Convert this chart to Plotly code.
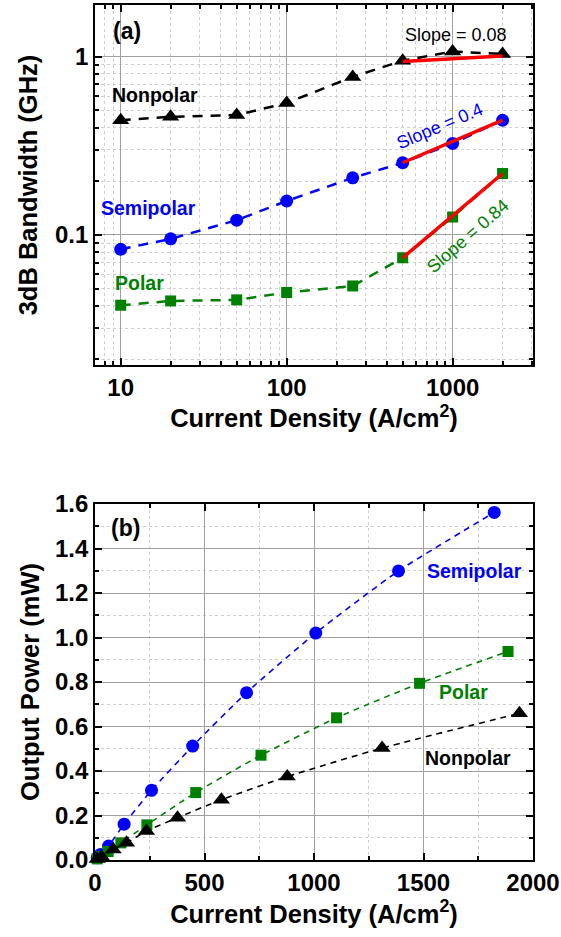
import plotly.graph_objects as go
import numpy as np

# ---------------- Data: panel (a) ----------------
current_a = [10, 20, 50, 100, 250, 500, 1000, 2000]
bw_nonpolar = [0.44, 0.46, 0.47, 0.55, 0.77, 0.95, 1.07, 1.035]
bw_semipolar = [0.083, 0.095, 0.121, 0.155, 0.209, 0.254, 0.326, 0.44]
bw_polar = [0.0403, 0.0426, 0.0432, 0.0475, 0.0517, 0.0744, 0.126, 0.221]

fit_x = [500, 2000]
fit_nonpolar = [0.94, 1.01]
fit_semipolar = [0.254, 0.44]
fit_polar = [0.0744, 0.221]

# ---------------- Data: panel (b) ----------------
cur_semipolar = [10, 25, 62, 133, 258, 446, 692, 1008, 1386, 1823]
pow_semipolar = [0.01, 0.025, 0.063, 0.161, 0.313, 0.512, 0.752, 1.020, 1.299, 1.562]
cur_polar = [10, 30, 60, 118, 237, 460, 758, 1103, 1482, 1886]
pow_polar = [0.005, 0.016, 0.038, 0.077, 0.158, 0.303, 0.471, 0.639, 0.794, 0.937]
cur_nonpolar = [10, 30, 83, 144, 235, 377, 577, 878, 1311, 1938]
pow_nonpolar = [0.005, 0.015, 0.047, 0.077, 0.130, 0.190, 0.271, 0.375, 0.503, 0.659]

BLACK = "#000000"
BLUE = "#0000FF"
GREEN = "#008000"
RED = "#FF0000"
FONT = "Liberation Sans"

W, H = 561, 937
L, R, T, B = 95, 28, 5, 77
PW = W - L - R
PH = H - T - B


def px(x):
    return (x - L) / PW


def py(y):
    return (H - B - y) / PH


top_dom = [py(365), 1.0]
bot_dom = [0.0, py(504)]

fig = go.Figure()

# panel (a) dashed series
for xs, ys, col, sym, size in [
    (current_a, bw_nonpolar, BLACK, "triangle-up", 15),
    (current_a, bw_semipolar, BLUE, "circle", 13),
    (current_a, bw_polar, GREEN, "square", 11),
]:
    fig.add_trace(go.Scatter(
        x=xs, y=ys, mode="lines+markers", xaxis="x", yaxis="y",
        line=dict(color=col, width=2.5, dash="10px,8px"),
        marker=dict(symbol=sym, size=size, color=col),
        showlegend=False, cliponaxis=False))

for ys in [fit_nonpolar, fit_semipolar, fit_polar]:
    fig.add_trace(go.Scatter(
        x=fit_x, y=ys, mode="lines", xaxis="x", yaxis="y",
        line=dict(color=RED, width=3.5), showlegend=False))

# panel (b)
for xs, ys, col, sym, size in [
    (cur_semipolar, pow_semipolar, BLUE, "circle", 13),
    (cur_polar, pow_polar, GREEN, "square", 11),
    (cur_nonpolar, pow_nonpolar, BLACK, "triangle-up", 15),
]:
    fig.add_trace(go.Scatter(
        x=xs, y=ys, mode="lines+markers", xaxis="x2", yaxis="y2",
        line=dict(color=col, width=1.6, dash="6px,5px", shape="spline", smoothing=0.6),
        marker=dict(symbol=sym, size=size, color=col),
        showlegend=False, cliponaxis=False))

tickfont = dict(family=FONT, size=24, color="black", weight="bold")
titlefont = dict(family=FONT, size=25.5, color="black", weight="bold")
major_grid = "#a0a0a0"
minor_grid = "#cfcfcf"

common = dict(
    showline=True, linecolor="black", linewidth=1.8, mirror="allticks",
    ticks="inside", ticklen=7, tickwidth=1.5, tickcolor="black",
    tickfont=tickfont, showgrid=True, gridcolor=major_grid, gridwidth=1,
    zeroline=False, automargin=False,
)

fig.update_layout(
    template="none",
    width=W, height=H,
    margin=dict(l=L, r=R, t=T, b=B),
    paper_bgcolor="white", plot_bgcolor="white",
    xaxis=dict(
        **common, type="log", domain=[0, 1], anchor="y",
        range=[np.log10(7), np.log10(3050)],
        tickvals=[10, 100, 1000], ticktext=["10", "100", "1000"],
        minor=dict(ticks="inside", ticklen=4, tickcolor="black", dtick="D1",
                   showgrid=True, gridcolor=minor_grid, griddash="dot", gridwidth=1),
        title=dict(text="Current Density (A/cm<sup>2</sup>)", font=titlefont, standoff=9),
    ),
    yaxis=dict(
        **common, type="log", domain=top_dom, anchor="x",
        range=[-1.73, 0.29],
        tickvals=[0.1, 1], ticktext=["0.1", "1"],
        minor=dict(ticks="inside", ticklen=4, tickcolor="black", dtick="D1",
                   showgrid=True, gridcolor=minor_grid, griddash="dot", gridwidth=1),
        title=dict(text="3dB Bandwidth (GHz)", font=titlefont, standoff=10),
    ),
    xaxis2=dict(
        **common, domain=[0, 1], anchor="y2",
        range=[0, 2000], dtick=500,
        minor=dict(ticks="inside", ticklen=4, tickcolor="black", dtick=250,
                   showgrid=True, gridcolor=minor_grid, griddash="dot", gridwidth=1),
        title=dict(text="Current Density (A/cm<sup>2</sup>)", font=titlefont, standoff=10),
    ),
    yaxis2=dict(
        **common, domain=bot_dom, anchor="x2",
        range=[0, 1.6], dtick=0.2, tickformat=".1f",
        minor=dict(ticks="inside", ticklen=4, tickcolor="black", dtick=0.1,
                   showgrid=True, gridcolor=minor_grid, griddash="dot", gridwidth=1),
        title=dict(text="Output Power (mW)", font=titlefont, standoff=8),
    ),
)


def ann(text, x, y, color="black", size=19.5, bold=True, angle=0):
    fig.add_annotation(
        text=text, x=px(x), y=py(y), xref="paper", yref="paper",
        showarrow=False, textangle=angle, xanchor="center", yanchor="middle",
        font=dict(family=FONT, size=size, color=color,
                  weight="bold" if bold else "normal"))


ann("(a)", 127, 31, size=23)
ann("Slope = 0.08", 456, 35, size=18, bold=False)
ann("Nonpolar", 155, 95)
ann("Slope = 0.4", 440, 126, color=BLUE, size=18, bold=False, angle=-23)
ann("Semipolar", 148, 208, color=BLUE)
ann("Polar", 139, 283, color=GREEN)
ann("Slope = 0.84", 468, 236, color=GREEN, size=18, bold=False, angle=-41)

ann("(b)", 125, 528, size=23)
ann("Semipolar", 474, 571, color=BLUE)
ann("Polar", 463, 692, color=GREEN)
ann("Nonpolar", 468, 758)

fig.write_html(
    "out.html",
    config={"displayModeBar": False},
    post_script="document.body.style.margin='0';document.body.style.overflow='hidden';",
)
